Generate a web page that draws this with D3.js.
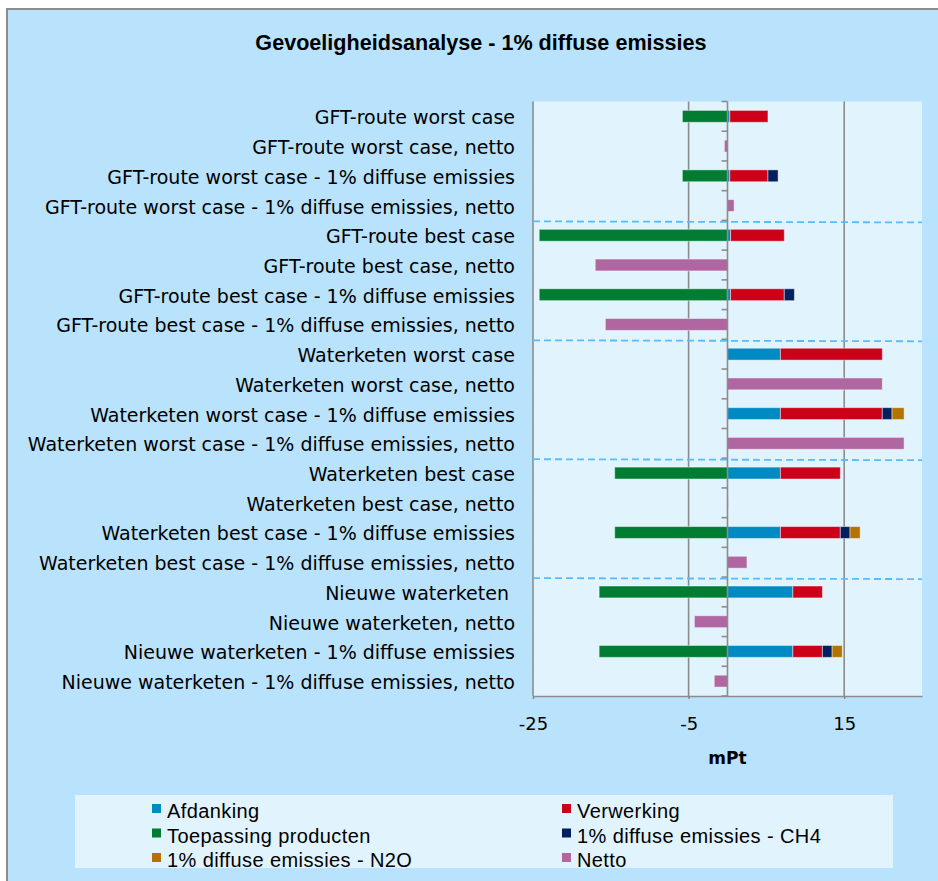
<!DOCTYPE html>
<html>
<head>
<meta charset="utf-8">
<script src="https://cdn.jsdelivr.net/npm/d3@7/dist/d3.min.js"></script>
<style>
  body { margin: 0; background: #ffffff; }
  .cat { font-family: "DejaVu Sans", sans-serif; font-size: 19px; fill: #000; white-space: pre; }
  .tick text { font-family: "DejaVu Sans", sans-serif; font-size: 18px; fill: #000; }
  .legend text { font-family: "Liberation Sans", Arial, sans-serif; font-size: 20px; fill: #000; letter-spacing: 0.4px; }
</style>
</head>
<body>
<div class="barchart"></div>
<script>
// categories, top to bottom
const categories = [
    "GFT-route worst case",
    "GFT-route worst case, netto",
    "GFT-route worst case - 1% diffuse emissies",
    "GFT-route worst case - 1% diffuse emissies, netto",
    "GFT-route best case",
    "GFT-route best case, netto",
    "GFT-route best case - 1% diffuse emissies",
    "GFT-route best case - 1% diffuse emissies, netto",
    "Waterketen worst case",
    "Waterketen worst case, netto",
    "Waterketen worst case - 1% diffuse emissies",
    "Waterketen worst case - 1% diffuse emissies, netto",
    "Waterketen best case",
    "Waterketen best case, netto",
    "Waterketen best case - 1% diffuse emissies",
    "Waterketen best case - 1% diffuse emissies, netto",
    "Nieuwe waterketen ",
    "Nieuwe waterketen, netto",
    "Nieuwe waterketen - 1% diffuse emissies",
    "Nieuwe waterketen - 1% diffuse emissies, netto"
];

// series values (mPt)
const afdanking  = [0.3, 0, 0.3, 0, 0.4, 0, 0.4, 0, 6.8, 0, 6.8, 0, 6.8, 0, 6.8, 0, 8.4, 0, 8.4, 0];
const verwerking = [4.9, 0, 4.9, 0, 6.9, 0, 6.9, 0, 13.1, 0, 13.1, 0, 7.7, 0, 7.7, 0, 3.8, 0, 3.8, 0];
const toepassing = [-5.8, 0, -5.8, 0, -24.2, 0, -24.2, 0, 0, 0, 0, 0, -14.5, 0, -14.5, 0, -16.5, 0, -16.5, 0];
const ch4        = [0, 0, 1.3, 0, 0, 0, 1.3, 0, 0, 0, 1.25, 0, 0, 0, 1.25, 0, 0, 0, 1.25, 0];
const n2o        = [0, 0, 0, 0, 0, 0, 0, 0, 0, 0, 1.55, 0, 0, 0, 1.3, 0, 0, 0, 1.3, 0];
const netto      = [0, -0.4, 0, 0.85, 0, -17.0, 0, -15.7, 0, 19.9, 0, 22.7, 0, 0.1, 0, 2.5, 0, -4.25, 0, -1.7];

const seriesNames = ["Afdanking", "Verwerking", "Toepassing producten",
                     "1% diffuse emissies - CH4", "1% diffuse emissies - N2O", "Netto"];
const xTicks = [-25, -5, 15];
// groups are separated after these rows
const groupBreaks = [4, 8, 12, 16];

const colors = ["#008ac4", "#cc0018", "#007d32", "#00205f", "#b37300", "#b066a0"];

const draw = () => {
    const width = 938, height = 881;
    const margin = {top: 101.5, right: 16, bottom: 185, left: 533};

    const svg = d3.select('.barchart')
        .append('svg')
        .attr('width', width)
        .attr('height', height);

    // chart area
    svg.append('rect')
        .attr('x', 7).attr('y', 9)
        .attr('width', width).attr('height', height)
        .attr('fill', '#b9e3fd')
        .attr('stroke', '#8c8c8c')
        .attr('stroke-width', 2);

    const xScale = d3.scaleLinear()
        .domain([-25, 25])
        .range([margin.left, width - margin.right]);
    const yScale = d3.scaleBand()
        .domain(categories)
        .range([margin.top, height - margin.bottom])
        .paddingInner(0.6)
        .paddingOuter(0.3);
    const step = yScale.step();
    const top = margin.top, bottom = height - margin.bottom;

    // plot area
    svg.append('rect')
        .attr('x', xScale(-25)).attr('y', top)
        .attr('width', xScale(25) - xScale(-25))
        .attr('height', bottom - top)
        .attr('fill', '#e1f3fd');

    // title
    svg.append('text')
        .attr('x', 481).attr('y', 50)
        .attr('text-anchor', 'middle')
        .style('font-family', '"Liberation Sans", Arial, sans-serif')
        .style('font-weight', 'bold')
        .style('font-size', '21.6px')
        .text("Gevoeligheidsanalyse - 1% diffuse emissies");

    // vertical gridlines
    svg.selectAll('.grid')
        .data(xTicks)
        .enter()
        .append('line')
        .attr('class', 'grid')
        .attr('x1', d => xScale(d)).attr('x2', d => xScale(d))
        .attr('y1', top).attr('y2', bottom)
        .attr('stroke', '#8c8c8c')
        .attr('stroke-width', 1.6);

    // x axis
    const xAxis = svg.append('g')
        .attr('transform', 'translate(0,' + bottom + ')')
        .call(d3.axisBottom(xScale)
            .tickValues(xTicks)
            .tickFormat(d => String(d))
            .tickSize(3).tickPadding(18).tickSizeOuter(0));
    xAxis.select('.domain').attr('stroke', '#8c8c8c').attr('stroke-width', 1.6);
    xAxis.selectAll('.tick line').attr('stroke', '#8c8c8c').attr('stroke-width', 1.6);

    svg.append('text')
        .attr('x', xScale(0)).attr('y', 764)
        .attr('text-anchor', 'middle')
        .style('font-family', '"DejaVu Sans", sans-serif')
        .style('font-weight', 'bold')
        .style('font-size', '17px')
        .text('mPt');

    // stacked bars
    const rows = categories.map((c, i) => ({
        cat: c,
        "Afdanking": afdanking[i],
        "Verwerking": verwerking[i],
        "Toepassing producten": toepassing[i],
        "1% diffuse emissies - CH4": ch4[i],
        "1% diffuse emissies - N2O": n2o[i],
        "Netto": netto[i]
    }));
    const stacked = d3.stack()
        .keys(seriesNames)
        .offset(d3.stackOffsetDiverging)(rows);

    svg.append('g')
        .selectAll('g')
        .data(stacked)
        .enter()
        .append('g')
        .attr('fill', (d, i) => colors[i])
        .selectAll('rect')
        .data(d => d.filter(p => p[1] - p[0] !== 0))
        .enter()
        .append('rect')
        .attr('x', d => xScale(Math.min(d[0], d[1])))
        .attr('y', d => yScale(d.data.cat))
        .attr('width', d => Math.abs(xScale(d[1]) - xScale(d[0])))
        .attr('height', yScale.bandwidth())
        .attr('stroke', 'rgba(255,255,255,0.45)')
        .attr('stroke-width', 1);

    // category axis at zero with boundary ticks
    const zero = xScale(0);
    svg.append('line')
        .attr('x1', zero).attr('x2', zero)
        .attr('y1', top).attr('y2', bottom)
        .attr('stroke', '#8c8c8c')
        .attr('stroke-width', 1.6);
    svg.selectAll('.ctick')
        .data(d3.range(categories.length + 1))
        .enter()
        .append('line')
        .attr('class', 'ctick')
        .attr('x1', zero - 6).attr('x2', zero)
        .attr('y1', i => top + i * step).attr('y2', i => top + i * step)
        .attr('stroke', '#8c8c8c')
        .attr('stroke-width', 1.6);

    // dashed group separators
    svg.selectAll('.sep')
        .data(groupBreaks)
        .enter()
        .append('line')
        .attr('class', 'sep')
        .attr('x1', xScale(-25)).attr('x2', xScale(25))
        .attr('y1', i => top + i * step + 1).attr('y2', i => top + i * step + 2)
        .attr('stroke', '#56bdff')
        .attr('stroke-width', 1.8)
        .attr('stroke-dasharray', '7,4');

    // category labels
    svg.selectAll('.cat')
        .data(categories)
        .enter()
        .append('text')
        .attr('class', 'cat')
        .attr('x', 515)
        .attr('y', d => yScale(d) + yScale.bandwidth() / 2)
        .attr('dy', '0.42em')
        .attr('text-anchor', 'end')
        .text(d => d);

    // legend
    const legend = svg.append('g').attr('class', 'legend');
    legend.append('rect')
        .attr('x', 75).attr('y', 795)
        .attr('width', 818).attr('height', 73)
        .attr('fill', '#e1f3fd');
    const items = legend.selectAll('.item')
        .data(seriesNames)
        .enter()
        .append('g')
        .attr('class', 'item')
        .attr('transform', (d, i) => 'translate(' + (i % 2 === 0 ? 152 : 562) + ',' + (818 + Math.floor(i / 2) * 24.5) + ')');
    items.append('rect')
        .attr('x', 0).attr('y', -14)
        .attr('width', 9).attr('height', 9)
        .attr('fill', (d, i) => colors[i]);
    items.append('text')
        .attr('x', 15).attr('y', 0)
        .text(d => d);
};

draw();
</script>
</body>
</html>
